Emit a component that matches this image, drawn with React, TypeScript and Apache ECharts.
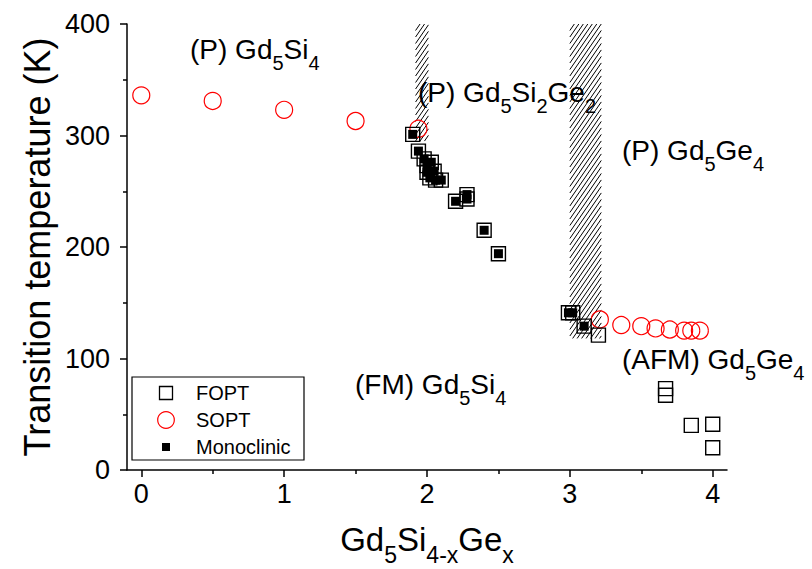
import React, { useEffect, useRef } from "react";
import * as echarts from "echarts";

// Gd5Si4-xGex phase diagram: transition temperatures vs. Ge content x

// first-order phase transitions (open squares)
const foptPoints: [number, number][] = [
  [1.9, 301], [1.94, 286], [1.98, 279], [2.0, 273], [2.03, 276], [2.0, 267],
  [2.05, 268], [2.02, 262], [2.06, 260], [2.1, 260], [2.2, 241], [2.28, 243],
  [2.28, 247], [2.4, 215], [2.5, 194],
  [2.99, 141], [3.02, 141], [3.1, 129], [3.2, 121],
  [3.67, 73], [3.67, 67], [3.85, 40], [4.0, 41], [4.0, 20],
];

// second-order phase transitions (open circles)
const soptPoints: [number, number][] = [
  [0, 336], [0.5, 331], [1, 323], [1.5, 313], [1.94, 306],
  [3.21, 135], [3.36, 130], [3.5, 129], [3.6, 127], [3.7, 126],
  [3.8, 125], [3.85, 125], [3.91, 125],
];

// samples with monoclinic structure (small filled squares)
const monoclinicPoints: [number, number][] = [
  [1.9, 301], [1.94, 286], [1.98, 279], [2.0, 273], [2.03, 276], [2.0, 267],
  [2.05, 268], [2.02, 262], [2.06, 260], [2.1, 260], [2.2, 241], [2.28, 243],
  [2.28, 247], [2.4, 215], [2.5, 194],
  [2.99, 141], [3.02, 141], [3.1, 129],
];

// two-phase regions: [xFrom, xTo, tFrom, tTo]
const hatchBands: [number, number, number, number][] = [
  [1.92, 2.01, 295, 400],
  [3.0, 3.22, 118, 400],
];

const xMajorTicks = [0, 1, 2, 3, 4];
const xMinorTicks = [0.5, 1.5, 2.5, 3.5];

const FONT = "'Liberation Sans', Arial, Helvetica, sans-serif";

// phase labels written with rich-text subscripts
const phaseLabels: { text: string; x: number; y: number }[] = [
  { text: "(P) Gd{s|5}Si{s|4}", x: 190, y: 49 },
  { text: "(P) Gd{s|5}Si{s|2}Ge{s|2}", x: 418, y: 92 },
  { text: "(P) Gd{s|5}Ge{s|4}", x: 622, y: 150 },
  { text: "(FM) Gd{s|5}Si{s|4}", x: 355, y: 384 },
  { text: "(AFM) Gd{s|5}Ge{s|4}", x: 622, y: 359 },
];

function renderHatch(_params: any, api: any) {
  const tl = api.coord([api.value(0), api.value(3)]);
  const br = api.coord([api.value(1), api.value(2)]);
  const L = tl[0], T = tl[1], R = br[0], B = br[1];
  const k = 1.45;
  const step = 6.5;
  const children: any[] = [];
  for (let c = T + k * L; c <= B + k * R; c += step) {
    const xa = Math.max(L, (c - B) / k);
    const xb = Math.min(R, (c - T) / k);
    if (xb - xa > 0.3) {
      children.push({
        type: "line",
        shape: { x1: xa, y1: c - k * xa, x2: xb, y2: c - k * xb },
        style: { stroke: "#000", lineWidth: 1 },
      });
    }
  }
  return { type: "group", children };
}

function legendGraphic() {
  const left = 132, top = 377, w = 172, h = 83;
  const iconX = 166, textX = 196;
  const rows = [393, 420, 447];
  const text = (s: string, y: number) => ({
    type: "text",
    style: {
      text: s, x: textX, y, fill: "#000", fontSize: 20, fontFamily: FONT,
      verticalAlign: "middle", align: "left",
    },
  });
  return {
    type: "group",
    children: [
      { type: "rect", shape: { x: left, y: top, width: w, height: h }, style: { fill: "#fff", stroke: "#000", lineWidth: 1.2 } },
      { type: "rect", shape: { x: iconX - 6.5, y: rows[0] - 6.5, width: 13, height: 13 }, style: { fill: "none", stroke: "#000", lineWidth: 1.3 } },
      text("FOPT", rows[0]),
      { type: "circle", shape: { cx: iconX, cy: rows[1], r: 8.3 }, style: { fill: "none", stroke: "#f00", lineWidth: 1.2 } },
      text("SOPT", rows[1]),
      { type: "rect", shape: { x: iconX - 4, y: rows[2] - 4, width: 8, height: 8 }, style: { fill: "#000" } },
      text("Monoclinic", rows[2]),
    ],
  };
}

export default function App() {
  const ref = useRef<HTMLDivElement>(null);

  useEffect(() => {
    if (!ref.current) return;
    const chart = echarts.init(ref.current, undefined, { renderer: "svg" });

    const axisLine = { show: true, onZero: false, lineStyle: { color: "#000", width: 1.5 } };
    const tickStyle = { color: "#000", width: 1.5 };

    chart.setOption({
      animation: false,
      backgroundColor: "#fff",
      grid: { left: 127, right: 85, top: 24, bottom: 99, containLabel: false, outerBoundsMode: "none" },
      xAxis: [
        {
          type: "value",
          min: -0.1,
          max: 4.1,
          position: "bottom",
          axisLine,
          axisTick: { show: true, customValues: xMajorTicks, length: 7, lineStyle: tickStyle },
          axisLabel: { customValues: xMajorTicks, fontSize: 27, color: "#000", fontFamily: FONT, margin: 10 },
          splitLine: { show: false },
          name: "{m|Gd}{s|5}{m|Si}{s|4-x}{m|Ge}{s|x}",
          nameLocation: "middle",
          nameGap: 42,
          nameMoveOverlap: false,
          nameTextStyle: {
            color: "#000",
            fontFamily: FONT,
            rich: {
              m: { fontSize: 33, lineHeight: 54, fontFamily: FONT, color: "#000" },
              s: { fontSize: 23, lineHeight: 14, verticalAlign: "bottom", fontFamily: FONT, color: "#000" },
            },
          },
        },
        {
          // short minor ticks along the bottom edge
          type: "value",
          min: -0.1,
          max: 4.1,
          position: "top",
          offset: -446,
          axisLine: { show: false },
          axisTick: { show: true, inside: true, customValues: xMinorTicks, length: 4, lineStyle: tickStyle },
          axisLabel: { show: false },
          splitLine: { show: false },
        },
      ],
      yAxis: {
        type: "value",
        min: 0,
        max: 400,
        interval: 100,
        axisLine,
        axisTick: { show: true, length: 7, lineStyle: tickStyle },
        minorTick: { show: true, splitNumber: 2, length: 4, lineStyle: tickStyle },
        axisLabel: { fontSize: 27, color: "#000", fontFamily: FONT, margin: 17 },
        splitLine: { show: false },
        minorSplitLine: { show: false },
        name: "Transition temperature (K)",
        nameLocation: "middle",
        nameGap: 72,
        nameMoveOverlap: false,
        nameTextStyle: { fontSize: 36, color: "#000", fontFamily: FONT },
      },
      series: [
        {
          type: "custom",
          name: "two-phase",
          renderItem: renderHatch,
          data: hatchBands,
          encode: { x: [0, 1], y: [2, 3] },
          silent: true,
          z: 1,
        },
        {
          type: "scatter",
          name: "SOPT",
          data: soptPoints,
          symbol: "circle",
          symbolSize: 17,
          itemStyle: { color: "none", borderColor: "#f00", borderWidth: 1.2, opacity: 1 },
          z: 2,
        },
        {
          type: "scatter",
          name: "FOPT",
          data: foptPoints,
          symbol: "rect",
          symbolSize: 14,
          itemStyle: { color: "none", borderColor: "#000", borderWidth: 1.4, opacity: 1 },
          z: 3,
        },
        {
          type: "scatter",
          name: "Monoclinic",
          data: monoclinicPoints,
          symbol: "rect",
          symbolSize: 9,
          itemStyle: { color: "#000", opacity: 1 },
          z: 4,
        },
      ],
      graphic: [
        legendGraphic(),
        ...phaseLabels.map((p) => ({
          type: "text",
          z: 10,
          style: {
            text: p.text,
            x: p.x,
            y: p.y,
            fill: "#000",
            fontSize: 28,
            fontFamily: FONT,
            lineHeight: 48,
            align: "left",
            verticalAlign: "middle",
            rich: {
              s: { fontSize: 20, lineHeight: 20, verticalAlign: "bottom", fontFamily: FONT, fill: "#000" },
            },
          },
        })),
      ],
    });

    return () => chart.dispose();
  }, []);

  return <div ref={ref} style={{ width: 812, height: 569, position: "absolute", left: 0, top: 0 }} />;
}
